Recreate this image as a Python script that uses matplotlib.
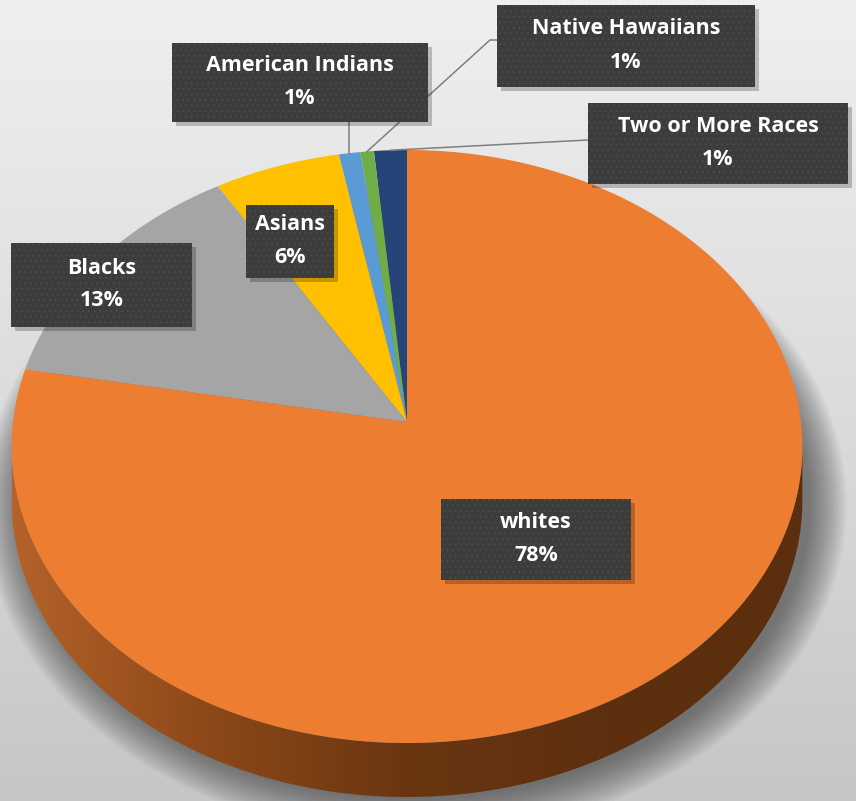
import numpy as np
import matplotlib
matplotlib.use("Agg")
import matplotlib.pyplot as plt
import matplotlib.transforms as mtransforms
from matplotlib.colors import LinearSegmentedColormap
from matplotlib.patches import Rectangle, Polygon
from matplotlib.path import Path

# slices, counter-clockwise from 12 o'clock
groups = ["Two or More Races", "Native Hawaiians", "American Indians", "Asians", "Blacks", "whites"]
shares = [1.45, 0.6, 0.95, 5.6, 13.5, 77.9]
pct_labels = ["1%", "1%", "1%", "6%", "13%", "78%"]
colors = ["#264478", "#70AD47", "#5B9BD5", "#FFC000", "#A5A5A5", "#ED7D31"]

W, H = 856, 801
CX, CY = 407, 422          # pie centre, pixels from top-left
RX, RY = 394, 294.5        # projected radii
K = 0.0826                 # perspective strength
DEPTH = 54                 # side thickness, px

plt.rcParams["hatch.linewidth"] = 0.5


class Tilt(mtransforms.Transform):
    """Cheap perspective: far side of the disc shrinks."""
    input_dims = output_dims = 2
    is_separable = False

    def __init__(self, k):
        super().__init__()
        self.k = k

    def transform_non_affine(self, xy):
        xy = np.asarray(xy, float)
        w = 1 + self.k * xy[:, 1]
        return np.column_stack([xy[:, 0] / w, xy[:, 1] / w])

    def transform_path_non_affine(self, path):
        # flatten the bezier arcs finely before bending them
        pts = []
        tt = np.linspace(0, 1, 24)
        for seg, code in path.iter_bezier():
            if code == Path.MOVETO:
                pts.append(seg.control_points)
            else:
                pts.append(seg(tt))
        verts = np.concatenate(pts)
        return Path(self.transform_non_affine(verts), closed=True)


tilt = Tilt(K)

fig = plt.figure(figsize=(W / 100, H / 100), dpi=100)

# background gradient
bg = fig.add_axes([0, 0, 1, 1], zorder=0)
yy = np.linspace(0, 1, 200)[:, None] * np.ones((1, 2))
bg_cmap = LinearSegmentedColormap.from_list("bg", ["#c6c6c6", "#dcdcdc", "#efefef"])
bg.imshow(yy, extent=[0, 1, 0, 1], aspect="auto", cmap=bg_cmap, origin="lower")
bg.axis("off")

ax = fig.add_axes([0, 0, 1, 1], zorder=1)
ax.patch.set_alpha(0)

wedges, _ = ax.pie(shares, colors=colors, startangle=90, counterclock=True,
                   wedgeprops=dict(linewidth=0))
for w in wedges:
    w.set_transform(tilt + ax.transData)
    w.set_zorder(3)
ax.set_aspect("auto")
ax.axis("off")

# soft shadow under the disc
t_all = np.linspace(0, 2 * np.pi, 400)
rim_all = tilt.transform(np.column_stack([np.cos(t_all), np.sin(t_all)]))
for g in np.linspace(36, 0, 20):
    sh = rim_all * [1 + g / RX, 1 + g / RY] + [8 / RX, -(DEPTH + 2) / RY]
    ax.add_patch(Polygon(sh, closed=True, fc="#2a2a2a", ec="none", alpha=0.035, zorder=0.5))

# side of the disc (front half, all in the whites slice)
t = np.linspace(np.pi + np.arcsin(K), 2 * np.pi - np.arcsin(K), 300)
top = tilt.transform(np.column_stack([np.cos(t), np.sin(t)]))
bot = top - [0, DEPTH / RY]
side = Polygon(np.vstack([top, bot[::-1]]), closed=True, fc="none", ec="none", zorder=2)
ax.add_patch(side)
side_cmap = LinearSegmentedColormap.from_list(
    "side", ["#b5622a", "#8c4818", "#6a3612", "#5e300f", "#5a2e0e"])
grad = np.linspace(0, 1, 256)[None, :]
x0, x1 = top[:, 0].min(), top[:, 0].max()
y0, y1 = bot[:, 1].min(), top[:, 1].max()
im = ax.imshow(grad, extent=[x0, x1, y0, y1], aspect="auto", cmap=side_cmap, zorder=2)
im.set_clip_path(side)
ax.set_xlim(-CX / RX, (W - CX) / RX)
ax.set_ylim(-(H - CY) / RY, CY / RY)

# label layer in pixel coordinates
lab = fig.add_axes([0, 0, 1, 1], zorder=2)
lab.set_xlim(0, W)
lab.set_ylim(H, 0)
lab.axis("off")
lab.patch.set_alpha(0)

boxes = [(588, 103, 260, 81), (497, 5, 258, 82), (172, 43, 256, 79),
         (246, 205, 88, 73), (11, 243, 181, 84), (441, 499, 190, 81)]

for name, pct, (bx, by, bw, bh) in zip(groups, pct_labels, boxes):
    lab.add_patch(Rectangle((bx + 4, by + 4), bw, bh, fc="#000000", ec="none", alpha=0.22, zorder=3))
    lab.add_patch(Rectangle((bx, by), bw, bh, fc="#3c3c3c", ec="none", zorder=4))
    lab.add_patch(Rectangle((bx, by), bw, bh, fc="none", ec="#4e4e4e", hatch="...",
                            lw=0, zorder=4))
    cx, cy = bx + bw / 2, by + bh / 2
    for txt, dy in ((name, -17), (pct, 16)):
        lab.text(cx, cy + dy, txt, ha="center", va="center", color="white",
                 fontsize=15.5, fontweight="bold", family="Open Sans", zorder=5)


def rim_px(i):
    start = sum(shares[:i])
    ang = np.deg2rad(90 + 360 * (start + shares[i] / 2) / 100)
    p = tilt.transform(np.array([[np.cos(ang), np.sin(ang)]]))
    disp = ax.transData.transform(p)
    return lab.transData.inverted().transform(disp)[0]


line_kw = dict(color="#7f7f7f", lw=1.1, zorder=2.5)
# Two or More Races
p = rim_px(0)
lab.plot([588, p[0]], [140, p[1]], **line_kw)
# Native Hawaiians
p = rim_px(1)
lab.plot([497, 490, p[0]], [40, 40, p[1]], **line_kw)
# American Indians
p = rim_px(2)
lab.plot([p[0], p[0]], [122, p[1]], **line_kw)

fig.savefig("out.png", dpi=100)
